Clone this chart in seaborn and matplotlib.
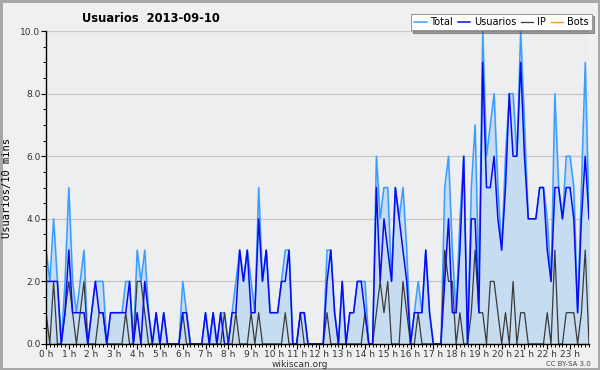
import numpy as np
import pandas as pd
import matplotlib
matplotlib.use("Agg")
import matplotlib.pyplot as plt
import seaborn as sns
from matplotlib.ticker import MultipleLocator

# -------------------------------
# Data: users per 10 minutes, 144 slots (00:00 - 23:50)
# -------------------------------
total = [3, 2, 4, 2, 0, 2, 5, 2, 1, 2, 3, 0, 1, 2, 2, 2, 0, 1, 1, 1, 1, 2, 2, 0,
         3, 2, 3, 1, 0, 1, 0, 1, 0, 0, 0, 0, 2, 1, 0, 0, 0, 0, 1, 0, 1, 0, 1, 1,
         0, 1, 2, 3, 2, 3, 2, 1, 5, 2, 3, 1, 1, 1, 2, 3, 3, 0, 0, 1, 1, 0, 0, 0,
         0, 0, 3, 3, 1, 0, 2, 0, 1, 1, 2, 2, 2, 0, 0, 6, 4, 5, 5, 2, 5, 4, 5, 3,
         0, 1, 2, 1, 3, 1, 0, 0, 0, 5, 6, 3, 1, 4, 6, 0, 5, 7, 2, 10, 6, 7, 8, 5,
         3, 6, 8, 8, 6, 10, 7, 4, 4, 4, 5, 5, 4, 2, 8, 5, 4, 6, 6, 5, 1, 5, 9, 4]
usuarios = [2, 2, 2, 2, 0, 1, 3, 1, 1, 1, 1, 0, 1, 2, 1, 1, 0, 1, 1, 1, 1, 1, 2, 0,
            1, 0, 2, 1, 0, 1, 0, 1, 0, 0, 0, 0, 1, 1, 0, 0, 0, 0, 1, 0, 1, 0, 1, 0,
            0, 1, 1, 3, 2, 3, 1, 1, 4, 2, 3, 1, 1, 1, 2, 2, 3, 0, 0, 1, 1, 0, 0, 0,
            0, 0, 2, 3, 1, 0, 2, 0, 1, 1, 2, 2, 1, 0, 0, 5, 2, 4, 3, 2, 5, 4, 3, 2,
            0, 1, 1, 1, 3, 1, 0, 0, 0, 2, 4, 1, 1, 3, 6, 0, 4, 4, 1, 9, 5, 5, 6, 4,
            3, 5, 8, 6, 6, 9, 6, 4, 4, 4, 5, 5, 3, 2, 5, 5, 4, 5, 5, 4, 1, 4, 6, 4]
ip = [1, 0, 2, 0, 0, 1, 2, 1, 0, 1, 2, 0, 0, 0, 1, 1, 0, 0, 0, 0, 0, 1, 0, 0,
      2, 2, 1, 0, 0, 0, 0, 0, 0, 0, 0, 0, 1, 0, 0, 0, 0, 0, 0, 0, 0, 0, 0, 1,
      0, 0, 1, 0, 0, 0, 1, 0, 1, 0, 0, 0, 0, 0, 0, 1, 0, 0, 0, 1, 0, 0, 0, 0,
      0, 0, 1, 0, 0, 0, 0, 0, 0, 0, 0, 0, 1, 0, 0, 1, 2, 1, 2, 0, 0, 0, 2, 1,
      0, 0, 1, 0, 0, 0, 0, 0, 0, 3, 2, 2, 0, 1, 0, 0, 1, 3, 1, 1, 0, 2, 2, 1,
      0, 1, 0, 2, 0, 1, 1, 0, 0, 0, 0, 0, 1, 0, 3, 0, 0, 1, 1, 1, 0, 1, 3, 0]
bots = [0] * 144
hour_labels = ["%d h" % h for h in range(24)]

df = pd.DataFrame({
    "hora": np.arange(144) / 6.0,
    "Total": total,
    "Usuarios": usuarios,
    "IP": ip,
    "Bots": bots,
})

# -------------------------------
# Figure
# -------------------------------
fig = plt.figure(figsize=(6, 3.7), dpi=100, facecolor="#f0f0f0",
                 edgecolor="#a8a8a8", linewidth=2.5)
ax = fig.add_axes([0.0767, 0.0703, 0.905, 0.8457])
ax.set_facecolor("#eceef0")

ax.fill_between(df["hora"], df["Total"], color="#c6dcf0", zorder=1)
sns.lineplot(data=df, x="hora", y="Bots", color="#ffa000", lw=1, ax=ax, label="Bots", zorder=1.5)
sns.lineplot(data=df, x="hora", y="Total", color="#3b9cff", lw=1.1, ax=ax, label="Total", zorder=2)
sns.lineplot(data=df, x="hora", y="IP", color="#3a3a3a", lw=0.9, ax=ax, label="IP", zorder=2.2)
sns.lineplot(data=df, x="hora", y="Usuarios", color="#0a0af0", lw=1.1, ax=ax, label="Usuarios", zorder=2.4)

ax.set_xlim(0, 143 / 6.0)
ax.set_ylim(0, 10)
ax.set_xlabel("")
ax.set_ylabel("Usuarios/10 mins", fontsize=7.5, family="DejaVu Sans Mono")
ax.yaxis.set_label_coords(-0.062, 0.5)

ax.yaxis.set_minor_locator(MultipleLocator(0.5))
ax.set_yticks(np.arange(0, 11, 2))
ax.set_yticklabels(["%.1f" % v for v in np.arange(0, 11, 2)], fontsize=6.5, color="#333333")
ax.set_xticks(range(24))
ax.set_xticklabels(hour_labels, fontsize=6.5, color="#333333")
ax.xaxis.set_minor_locator(MultipleLocator(1 / 6.0))
ax.tick_params(axis="both", which="major", length=3.5, width=0.8, pad=0.5)
ax.tick_params(axis="both", which="minor", length=2.5, width=0.7)

ax.grid(axis="y", color="#c8c8c8", lw=0.9)
ax.set_axisbelow(True)
for side in ["top", "right"]:
    ax.spines[side].set_visible(False)
for side in ["left", "bottom"]:
    ax.spines[side].set_color("black")
    ax.spines[side].set_linewidth(1.0)
    ax.spines[side].set_zorder(3)

# legend in the original order
handles, labels = ax.get_legend_handles_labels()
order = [labels.index(n) for n in ["Total", "Usuarios", "IP", "Bots"]]
leg = ax.legend([handles[i] for i in order], [labels[i] for i in order],
                ncol=4, loc="upper right", bbox_to_anchor=(0.986, 0.963),
                bbox_transform=fig.transFigure, fontsize=7, frameon=True,
                fancybox=False, shadow=True, handlelength=1.3, handletextpad=0.35,
                columnspacing=0.5, borderpad=0.35, borderaxespad=0)
leg.get_frame().set_edgecolor("#999999")
leg.get_frame().set_facecolor("white")
leg.get_frame().set_linewidth(0.8)

fig.text(0.252, 0.949, "Usuarios  2013-09-10", fontsize=8.3, fontweight="bold",
         ha="center", va="center")
fig.text(0.5, 0.016, "wikiscan.org", fontsize=6.5, color="#333333", ha="center", va="center")
fig.text(0.985, 0.016, "CC BY-SA 3.0", fontsize=5, color="#444444", ha="right", va="center")

fig.savefig("out.png", dpi=100, facecolor=fig.get_facecolor(), edgecolor=fig.get_edgecolor())
